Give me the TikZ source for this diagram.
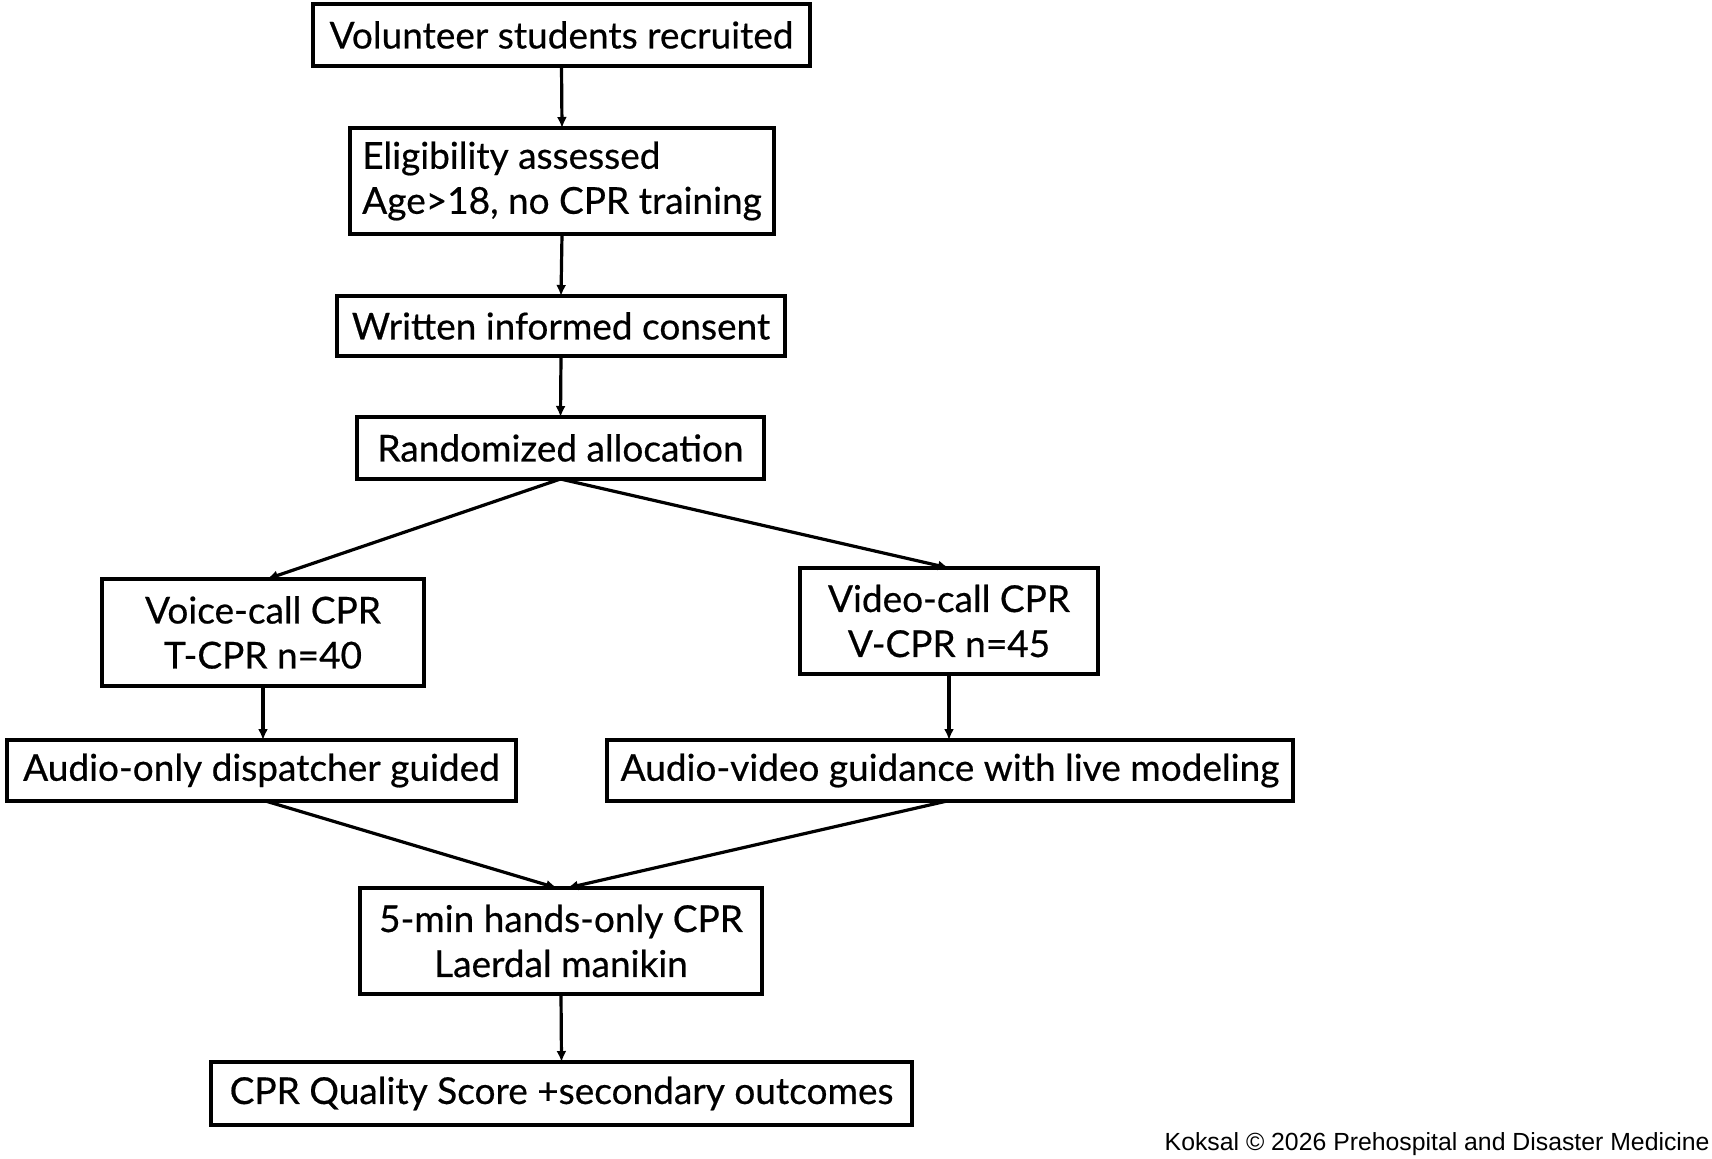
\documentclass[tikz,border=0pt]{standalone}
\usepackage{fontspec}
\setmainfont{Lato}[FakeBold=0.5]
\newfontfamily\footfont{Liberation Sans}
\usetikzlibrary{arrows.meta}
\begin{document}
\begin{tikzpicture}[x=0.5pt,y=-0.5pt,
  box/.style={draw=black, line width=1.6pt, inner sep=0pt, outer sep=0pt, align=center,
    font=\fontsize{18.5}{22.5}\selectfont, text=black},
  conn/.style={draw=black, line width=1.6pt, -{Latex[length=5.5pt,width=5pt]}}]
\fill[white] (0,0) rectangle (1712,1158);
\useasboundingbox (0,0) rectangle (1712,1158);
\node[box, minimum width=248.5pt, minimum height=31pt] (b1) at (561.5,35) {Volunteer students recruited};
\node[box, minimum width=212pt, minimum height=53pt, align=left] (b2) at (562,181) {Eligibility assessed\\Age>18, no CPR training};
\node[box, minimum width=224pt, minimum height=30pt] (b3) at (561,326) {Written informed consent};
\node[box, minimum width=203.5pt, minimum height=31pt] (b4) at (560.5,448) {Randomized allocation};
\node[box, minimum width=161pt, minimum height=53.5pt] (b5) at (263,632.5) {Voice-call CPR\\T-CPR n=40};
\node[box, minimum width=149pt, minimum height=53pt] (b6) at (949,621) {Video-call CPR\\V-CPR n=45};
\node[box, minimum width=254.5pt, minimum height=30.5pt] (b7) at (261.5,770.5) {Audio-only dispatcher guided};
\node[box, minimum width=343pt, minimum height=30.5pt] (b8) at (950,770.5) {Audio-video guidance with live modeling};
\node[box, minimum width=201pt, minimum height=53pt] (b9) at (561,941) {5-min hands-only CPR\\Laerdal manikin};
\node[box, minimum width=350.5pt, minimum height=31.5pt] (b10) at (561.5,1093.5) {CPR Quality Score +secondary outcomes};
\node[anchor=east, inner sep=0pt, font=\footfont\fontsize{12.4}{14}\selectfont] (foot) at (1710,1144) {Koksal © 2026 Prehospital and Disaster Medicine};
\draw[conn] (b1.south) -- (b2.north);
\draw[conn] (b2.south) -- (b3.north);
\draw[conn] (b3.south) -- (b4.north);
\draw[conn] (b4.south) -- ([xshift=2pt]b5.north);
\draw[conn] (b4.south) -- (b6.north);
\draw[conn] (b5.south) -- (b5.south |- b7.north);
\draw[conn] (b6.south) -- (b6.south |- b8.north);
\draw[conn] ([xshift=2pt]b7.south) -- ([xshift=-2pt]b9.north);
\draw[conn] ([xshift=-1.5pt]b8.south) -- ([xshift=3pt]b9.north);
\draw[conn] (b9.south) -- (b10.north);
\end{tikzpicture}
\end{document}
